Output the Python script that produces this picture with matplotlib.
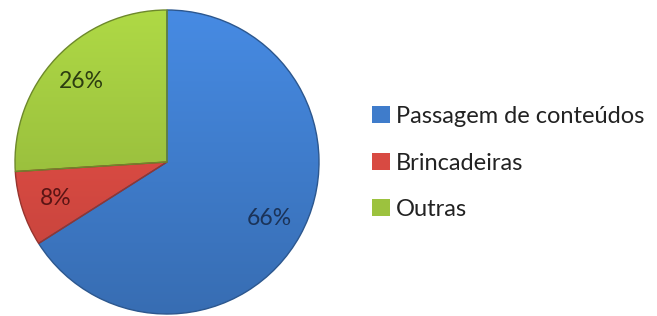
import matplotlib
matplotlib.use("Agg")
import matplotlib.pyplot as plt
import numpy as np
from matplotlib.colors import to_rgb
from matplotlib.patches import Patch

categories = ["Passagem de conteúdos", "Brincadeiras", "Outras"]
values = [66, 8, 26]
colors = ["#3F7CCB", "#D84A42", "#9CC23E"]
label_colors = ["#1B3358", "#5A1414", "#2C3D10"]

plt.rcParams['font.family'] = ['Lato', 'DejaVu Sans']

W, H = 657, 316
fig = plt.figure(figsize=(W / 100, H / 100), dpi=100)
cx, cy, r = 167, 162, 152
ax = fig.add_axes([(cx - r) / W, (H - cy - r) / H, 2 * r / W, 2 * r / H])

wedges, texts, autotexts = ax.pie(
    values, colors=colors, startangle=90, counterclock=False,
    autopct=lambda p: f"{p:.0f}%", pctdistance=0.77, radius=1.0,
    wedgeprops=dict(edgecolor="none", linewidth=0),
    textprops=dict(fontsize=16.5))
for t, c in zip(autotexts, label_colors):
    t.set_color(c)

# shaded fill per wedge (lighter top, darker bottom)
yy = np.linspace(1, -1, 200)[:, None] * np.ones((1, 200))
for w, c in zip(wedges, colors):
    base = np.array(to_rgb(c))
    f = 1.0 + 0.12 * yy
    img = np.clip(base[None, None, :] * f[:, :, None], 0, 1)
    im = ax.imshow(img, extent=(-1, 1, -1, 1), zorder=1.5, interpolation="bilinear")
    im.set_clip_path(w)
    w.set_edgecolor(tuple(base * 0.7))
    w.set_linewidth(1.0)
    w.set_zorder(1.6)
    w.set_facecolor("none")
for t in autotexts:
    t.set_zorder(3)

ax.set_xlim(-1.0, 1.0)
ax.set_ylim(-1.0, 1.0)
ax.set_aspect("equal")
ax.axis("off")

handles = [Patch(facecolor=c, edgecolor="none") for c in colors]
fig.legend(handles, categories, loc="center left",
           bbox_to_anchor=(351 / W, 1 - 163 / H), frameon=False,
           fontsize=17, handlelength=0.75, handleheight=0.75,
           handletextpad=0.25, labelspacing=1.08, labelcolor="#222222")

fig.savefig("out.png", dpi=100)
